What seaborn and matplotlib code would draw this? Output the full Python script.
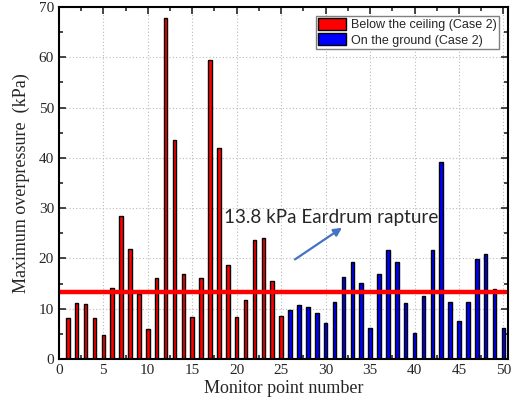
import numpy as np
import pandas as pd
import matplotlib
matplotlib.use("Agg")
import matplotlib.pyplot as plt
import seaborn as sns
from matplotlib.ticker import MultipleLocator

# monitor points and peak overpressure (kPa)
ceiling_points = list(range(1, 26))
ceiling_values = [8.2, 11.2, 10.9, 8.1, 4.8, 14.1, 28.5, 21.9, 13.0, 5.9,
                  16.1, 67.8, 43.6, 16.9, 8.4, 16.1, 59.4, 42.0, 18.7, 8.4,
                  11.8, 23.7, 24.0, 15.6, 8.5]
ground_points = list(range(26, 51))
ground_values = [9.7, 10.7, 10.3, 9.2, 7.1, 11.3, 16.2, 19.3, 15.2, 6.2,
                 16.8, 21.7, 19.3, 11.1, 5.2, 12.5, 21.7, 39.1, 11.3, 7.5,
                 11.3, 19.9, 20.9, 14.0, 6.2]
labels = ["Below the ceiling (Case 2)", "On the ground (Case 2)"]
threshold = 13.3

df = pd.DataFrame({
    "point": ceiling_points + ground_points,
    "value": ceiling_values + ground_values,
    "where": [labels[0]] * len(ceiling_points) + [labels[1]] * len(ground_points),
})

sns.set_style("ticks")
fig = plt.figure(figsize=(5.12, 4.07), dpi=100)
ax = fig.add_axes([0.115, 0.118, 0.877, 0.865])

sns.barplot(data=df, x="point", y="value", hue="where", hue_order=labels,
            palette=["#ff0000", "#0000ff"], saturation=1, native_scale=True,
            dodge=False, width=0.4, edgecolor="black", linewidth=1.0, ax=ax)

ax.set_xlim(0, 50.5)
ax.set_ylim(0, 70)
ax.xaxis.set_major_locator(MultipleLocator(5))
ax.xaxis.set_minor_locator(MultipleLocator(2.5))
ax.yaxis.set_major_locator(MultipleLocator(10))
ax.yaxis.set_minor_locator(MultipleLocator(5))
ax.tick_params(which="both", direction="in", top=True, right=True,
               labelsize=11, width=1.2)
ax.tick_params(which="major", length=5)
ax.tick_params(which="minor", length=3)
for lab in ax.get_xticklabels() + ax.get_yticklabels():
    lab.set_fontfamily("Liberation Serif")
ax.grid(False, which="minor")
ax.grid(True, which="major", linestyle=(0, (1, 2)), color="#bbbbbb",
        linewidth=0.8)
ax.set_axisbelow(True)
for s in ax.spines.values():
    s.set_linewidth(1.5)
    s.set_color("black")

ax.axhline(threshold, xmin=0, xmax=0.995, color="#ff0000", linewidth=3.2)

ax.text(18.6, 28.2, "13.8 kPa Eardrum rapture", fontsize=13.6,
        family="Lato", va="center", ha="left")
ax.annotate("", xy=(32.1, 26.4), xytext=(26.3, 19.5),
            arrowprops=dict(arrowstyle="-|>", color="#4472c4", lw=1.6,
                            mutation_scale=12))

ax.set_xlabel("Monitor point number", family="Liberation Serif", fontsize=13,
              labelpad=2)
ax.set_ylabel("Maximum overpressure  (kPa)", family="Liberation Serif",
              fontsize=13, labelpad=6)

handles, _ = ax.get_legend_handles_labels()
leg = ax.legend(handles, labels, loc="upper right",
                prop={"family": "Liberation Sans", "size": 9},
                frameon=True, fancybox=False, edgecolor="#808080",
                framealpha=1, borderpad=0.2, handlelength=2.2,
                handleheight=1.1, handletextpad=0.4, labelspacing=0.15,
                borderaxespad=0.7)
leg.get_frame().set_linewidth(1.0)

fig.savefig("out.png", dpi=100)
